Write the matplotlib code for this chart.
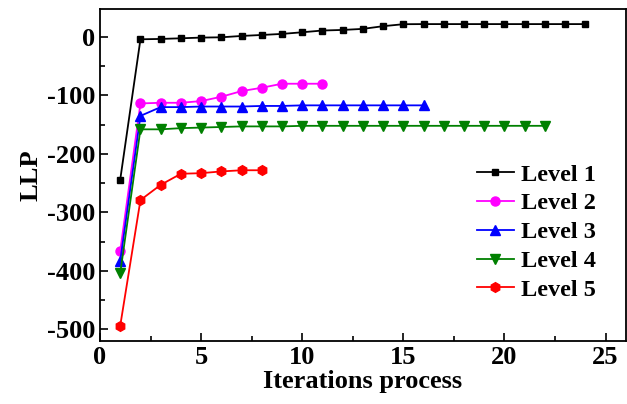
import matplotlib
matplotlib.use("Agg")
import matplotlib.pyplot as plt
from matplotlib.ticker import MultipleLocator

# LLP per iteration for each level
level1_x = list(range(1, 25))
level1_y = [-244, -4, -3.4, -2.3, -1.1, -0.6, 1.7, 3.4, 5.2, 8, 11, 12, 13.8, 18.4,
            21.8, 22, 22, 22, 22, 22, 22, 22, 22, 22]
level2_x = list(range(1, 12))
level2_y = [-366, -113.7, -112.6, -112.6, -109.7, -102.3, -92.6, -86.9, -80, -80, -80]
level3_x = list(range(1, 17))
level3_y = [-383, -135, -120, -120, -119, -119, -119, -118, -118, -117, -117,
            -117, -117, -117, -117, -117]
level4_x = list(range(1, 23))
level4_y = [-404, -158, -158, -156, -155, -154, -153, -153, -153, -152, -152,
            -152, -152, -152, -152, -152, -152, -152, -152, -152, -152, -152]
level5_x = list(range(1, 9))
level5_y = [-494, -279, -253, -234, -233, -230, -228, -228]

series = [
    ("Level 1", level1_x, level1_y, "black", "s", 5),
    ("Level 2", level2_x, level2_y, "#ff00ff", "o", 6.5),
    ("Level 3", level3_x, level3_y, "#0000ff", "^", 6.5),
    ("Level 4", level4_x, level4_y, "#008000", "v", 6.5),
    ("Level 5", level5_x, level5_y, "#ff0000", "h", 7),
]

plt.rcParams["font.family"] = ["Liberation Serif", "DejaVu Serif"]
plt.rcParams["font.weight"] = "bold"
plt.rcParams["axes.unicode_minus"] = False

fig = plt.figure(figsize=(6.27, 4.04), dpi=100)
ax = fig.add_axes([0.1595, 0.156, 0.8385, 0.822])

for name, xs, ys, col, mk, ms in series:
    ax.plot(xs, ys, color=col, marker=mk, markersize=ms, linewidth=1.3, label=name)

ax.set_xlim(0, 26)
ax.set_ylim(-520, 48)
ax.xaxis.set_major_locator(MultipleLocator(5))
ax.xaxis.set_minor_locator(MultipleLocator(2.5))
ax.yaxis.set_major_locator(MultipleLocator(100))
ax.yaxis.set_minor_locator(MultipleLocator(50))
ax.tick_params(which="both", direction="in", top=False, right=False, width=1.2)
ax.tick_params(which="major", length=6, labelsize=19)
ax.tick_params(which="minor", length=3.5)
for sp in ax.spines.values():
    sp.set_linewidth(1.3)

ax.set_xlabel("Iterations process", fontsize=19, fontweight="bold", labelpad=1)
ax.set_ylabel("LLP", fontsize=19, fontweight="bold", labelpad=3)

ax.legend(loc="lower right", bbox_to_anchor=(0.985, 0.055), frameon=False,
          handlelength=1.5, handletextpad=0.3, labelspacing=0.28,
          prop={"weight": "bold", "size": 17.5})

fig.savefig("out.png", dpi=100)
